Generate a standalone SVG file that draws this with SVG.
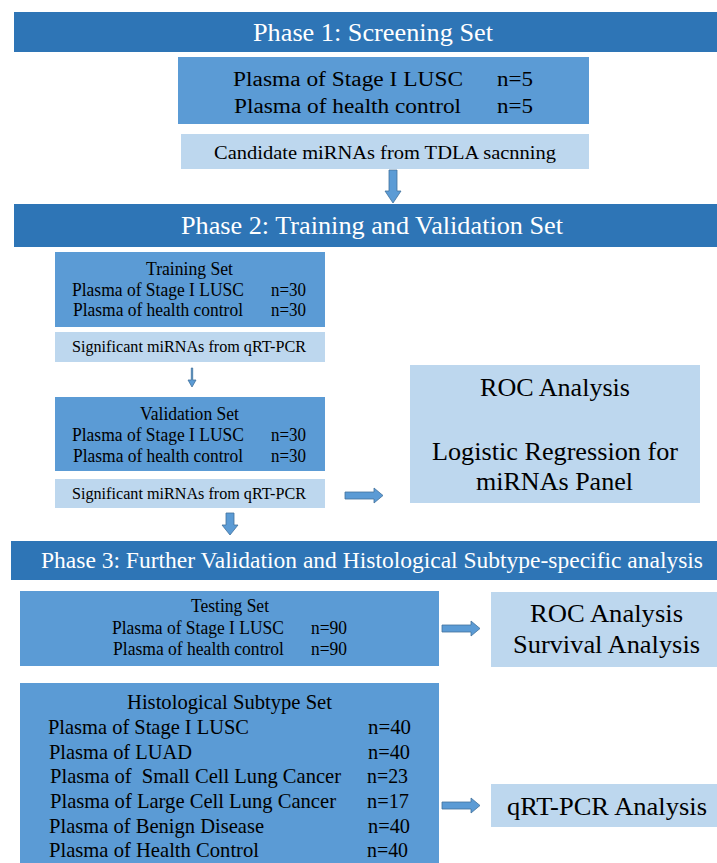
<svg xmlns="http://www.w3.org/2000/svg" width="717" height="863" viewBox="0 0 717 863">
<style>
text{font-family:"Liberation Serif","Times New Roman",serif;fill:#000}
.hdr{fill:#2E75B6}
.mid{fill:#5B9BD5}
.lt{fill:#BDD7EE}
.ht{fill:#fff}
.arr{fill:#5B9BD5;stroke:#41719C;stroke-width:0.8}
</style>
<rect width="717" height="863" fill="#fff"/>
<g id="phase1">
<rect class="hdr" x="14" y="12" width="703" height="40"/>
<text class="ht" x="253" y="41" font-size="26" textLength="240" lengthAdjust="spacingAndGlyphs">Phase 1: Screening Set</text>
</g>
<g id="screening">
<rect class="mid" x="178" y="57" width="411" height="67"/>
<text x="233" y="86" font-size="20.5" textLength="230" lengthAdjust="spacingAndGlyphs">Plasma of Stage I LUSC</text>
<text x="497" y="86" font-size="20.5" textLength="36" lengthAdjust="spacingAndGlyphs">n=5</text>
<text x="234" y="113" font-size="20.5" textLength="227" lengthAdjust="spacingAndGlyphs">Plasma of health control</text>
<text x="497" y="113" font-size="20.5" textLength="36" lengthAdjust="spacingAndGlyphs">n=5</text>
</g>
<g id="candidate">
<rect class="lt" x="181" y="134" width="408" height="35"/>
<text x="214" y="159" font-size="19" textLength="342" lengthAdjust="spacingAndGlyphs">Candidate miRNAs from TDLA sacnning</text>
</g>
<g id="phase2">
<rect class="hdr" x="14" y="204" width="703" height="43"/>
<text class="ht" x="181" y="234" font-size="25" textLength="382" lengthAdjust="spacingAndGlyphs">Phase 2: Training and Validation Set</text>
</g>
<g id="training">
<rect class="mid" x="55" y="252" width="270" height="75"/>
<text x="146" y="275" font-size="18" textLength="87" lengthAdjust="spacingAndGlyphs">Training Set</text>
<text x="72" y="296" font-size="18" textLength="172" lengthAdjust="spacingAndGlyphs">Plasma of Stage I LUSC</text>
<text x="271" y="296" font-size="18" textLength="35" lengthAdjust="spacingAndGlyphs">n=30</text>
<text x="73" y="316" font-size="18" textLength="170" lengthAdjust="spacingAndGlyphs">Plasma of health control</text>
<text x="271" y="316" font-size="18" textLength="35" lengthAdjust="spacingAndGlyphs">n=30</text>
</g>
<g id="sig1">
<rect class="lt" x="55" y="332" width="270" height="30"/>
<text x="72" y="352" font-size="17.5" textLength="234" lengthAdjust="spacingAndGlyphs">Significant miRNAs from qRT-PCR</text>
</g>
<g id="validation">
<rect class="mid" x="55" y="397" width="270" height="74"/>
<text x="140" y="420" font-size="18" textLength="99" lengthAdjust="spacingAndGlyphs">Validation Set</text>
<text x="72" y="441" font-size="18" textLength="172" lengthAdjust="spacingAndGlyphs">Plasma of Stage I LUSC</text>
<text x="271" y="441" font-size="18" textLength="35" lengthAdjust="spacingAndGlyphs">n=30</text>
<text x="73" y="462" font-size="18" textLength="170" lengthAdjust="spacingAndGlyphs">Plasma of health control</text>
<text x="271" y="462" font-size="18" textLength="35" lengthAdjust="spacingAndGlyphs">n=30</text>
</g>
<g id="sig2">
<rect class="lt" x="55" y="479" width="270" height="29"/>
<text x="72" y="499" font-size="17.5" textLength="234" lengthAdjust="spacingAndGlyphs">Significant miRNAs from qRT-PCR</text>
</g>
<g id="roc1">
<rect class="lt" x="410" y="365" width="290" height="138"/>
<text x="480" y="396" font-size="25" textLength="150" lengthAdjust="spacingAndGlyphs">ROC Analysis</text>
<text x="432" y="460" font-size="25" textLength="246" lengthAdjust="spacingAndGlyphs">Logistic Regression for</text>
<text x="476" y="490" font-size="25" textLength="157" lengthAdjust="spacingAndGlyphs">miRNAs Panel</text>
</g>
<g id="phase3">
<rect class="hdr" x="11" y="541" width="706" height="39"/>
<text class="ht" x="41" y="568" font-size="24" textLength="662" lengthAdjust="spacingAndGlyphs">Phase 3: Further Validation and Histological Subtype-specific analysis</text>
</g>
<g id="testing">
<rect class="mid" x="20" y="591" width="419" height="75"/>
<text x="191" y="612" font-size="18" textLength="78" lengthAdjust="spacingAndGlyphs">Testing Set</text>
<text x="112" y="634" font-size="18" textLength="172" lengthAdjust="spacingAndGlyphs">Plasma of Stage I LUSC</text>
<text x="311" y="634" font-size="18" textLength="36" lengthAdjust="spacingAndGlyphs">n=90</text>
<text x="113" y="655" font-size="18" textLength="171" lengthAdjust="spacingAndGlyphs">Plasma of health control</text>
<text x="311" y="655" font-size="18" textLength="36" lengthAdjust="spacingAndGlyphs">n=90</text>
</g>
<g id="roc2">
<rect class="lt" x="491" y="592" width="226" height="75"/>
<text x="530" y="622" font-size="25" textLength="153" lengthAdjust="spacingAndGlyphs">ROC Analysis</text>
<text x="513" y="653" font-size="25" textLength="187" lengthAdjust="spacingAndGlyphs">Survival Analysis</text>
</g>
<g id="histological">
<rect class="mid" x="20" y="683" width="419" height="185"/>
<text x="127" y="709" font-size="21" textLength="205" lengthAdjust="spacingAndGlyphs">Histological Subtype Set</text>
<text x="48" y="734" font-size="21" textLength="201" lengthAdjust="spacingAndGlyphs">Plasma of Stage I LUSC</text>
<text x="368" y="734" font-size="21" textLength="43" lengthAdjust="spacingAndGlyphs">n=40</text>
<text x="49" y="759" font-size="21" textLength="143" lengthAdjust="spacingAndGlyphs">Plasma of LUAD</text>
<text x="368" y="759" font-size="21" textLength="42" lengthAdjust="spacingAndGlyphs">n=40</text>
<text x="50" y="783" font-size="21" textLength="291" lengthAdjust="spacingAndGlyphs" xml:space="preserve">Plasma of  Small Cell Lung Cancer</text>
<text x="367" y="783" font-size="21" textLength="41" lengthAdjust="spacingAndGlyphs">n=23</text>
<text x="50" y="808" font-size="21" textLength="286" lengthAdjust="spacingAndGlyphs">Plasma of Large Cell Lung Cancer</text>
<text x="367" y="808" font-size="21" textLength="42" lengthAdjust="spacingAndGlyphs">n=17</text>
<text x="49" y="833" font-size="21" textLength="215" lengthAdjust="spacingAndGlyphs">Plasma of Benign Disease</text>
<text x="368" y="833" font-size="21" textLength="42" lengthAdjust="spacingAndGlyphs">n=40</text>
<text x="49" y="857" font-size="21" textLength="210" lengthAdjust="spacingAndGlyphs">Plasma of Health Control</text>
<text x="367" y="857" font-size="21" textLength="41" lengthAdjust="spacingAndGlyphs">n=40</text>
</g>
<g id="qrtpcr">
<rect class="lt" x="491" y="784" width="226" height="43"/>
<text x="507" y="815" font-size="26" textLength="200" lengthAdjust="spacingAndGlyphs">qRT-PCR Analysis</text>
</g>
<g id="connectors">
<path class="arr" d="M389,170 H397 V191 H401 L393,203 L385,191 H389 Z"/>
<path class="arr" d="M191.3,368 H192.7 V380 H196 L192,387 L188,380 H191.3 Z"/>
<path class="arr" d="M226,513 H234 V525 H238 L230,535 L222,525 H226 Z"/>
<path class="arr" d="M345,492 H374 V488 L383,495.5 L374,503 V499 H345 Z"/>
<path class="arr" d="M442,625 H471 V621 L480,628.5 L471,636 V632 H442 Z"/>
<path class="arr" d="M442,802 H471 V798 L480,805.5 L471,813 V809 H442 Z"/>
</g>
</svg>
